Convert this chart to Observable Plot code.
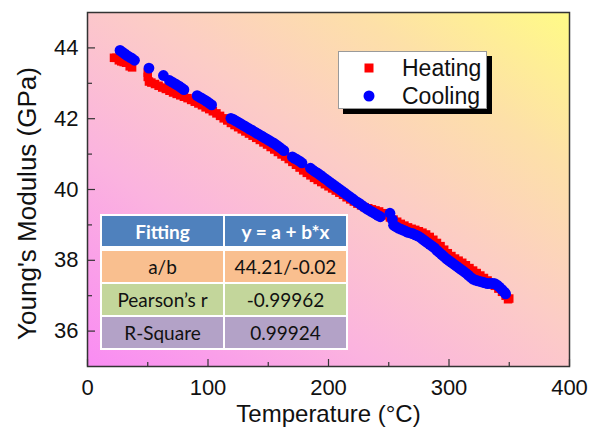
<!DOCTYPE html>
<html>
<head>
<meta charset="utf-8">
<script src="https://cdn.jsdelivr.net/npm/d3@7"></script>
<script src="https://cdn.jsdelivr.net/npm/@observablehq/plot@0.6"></script>
<style>
  html, body { margin: 0; padding: 0; background: #fff; }
  #wrap { position: relative; width: 592px; height: 433px; font-family: "Liberation Sans", Arial, sans-serif; }
  #legend { position: absolute; left: 338px; top: 51px; width: 149px; height: 58px; background: #fff;
            border: 1px solid #9a9a9a; box-shadow: 5px 5px 0 #000; box-sizing: border-box; }
  .lrow { position: absolute; left: 0; height: 28px; width: 100%; font-size: 23px; color: #111; }
  .lrow svg { position: absolute; left: 24px; top: 8px; }
  .lrow span { position: absolute; left: 63px; top: 1px; line-height: 26px; }
  #fit { position: absolute; left: 100px; top: 214px; width: 248px; border-collapse: separate; border-spacing: 2px;
         background: #fff; font-family: Lato, "Open Sans", sans-serif; font-size: 19px; color: #111; table-layout: fixed; }
  #fit td { text-align: center; padding: 0; height: 31px; }
  #fit td:first-child { width: 121px; }
  #fit tr.h td { background: #4f81bd; color: #fff; font-weight: bold; height: 30px; border-bottom: 3px solid #fff; }
  #fit tr.o td { background: #f9bf8f; }
  #fit tr.g td { background: #c3d69b; }
  #fit tr.p td { background: #b3a2c7; }
</style>
</head>
<body>
<div id="wrap"></div>
<script>
// ---- data ----
const heatT = [22,24,26,28,30,32,35,37,50,50,51,53,56,59,62,65,68,71,74,77,80,83,86,89,92,95,98,101,104,107,110,113,116,119,122,125,128,131,134,137,140,143,146,149,152,155,158,161,164,167,170,173,176,179,182,185,188,191,194,197,200,203,206,209,212,215,218,221,224,227,230,233,236,239,242,245,248,251,254,257,260,263,266,269,272,275,278,281,284,287,290,293,296,299,302,305,308,311,314,317,320,323,326,329,332,335,338,341,344,347,349,350];
const heatE = [43.72,43.72,43.65,43.62,43.60,43.58,43.48,43.45,43.30,43.18,43.05,43.02,42.98,42.93,42.88,42.84,42.79,42.74,42.70,42.66,42.62,42.58,42.53,42.48,42.43,42.38,42.32,42.27,42.21,42.15,42.08,42.01,41.95,41.88,41.82,41.76,41.70,41.64,41.58,41.52,41.46,41.40,41.33,41.27,41.20,41.13,41.06,40.99,40.93,40.86,40.78,40.70,40.62,40.54,40.47,40.40,40.33,40.27,40.21,40.15,40.09,40.03,39.97,39.91,39.85,39.78,39.72,39.66,39.60,39.55,39.50,39.47,39.44,39.41,39.38,39.33,39.27,39.21,39.15,39.09,39.03,38.98,38.93,38.89,38.86,38.82,38.78,38.73,38.66,38.58,38.49,38.40,38.30,38.20,38.12,38.05,37.99,37.93,37.86,37.78,37.71,37.64,37.57,37.50,37.43,37.36,37.28,37.20,37.11,37.00,36.90,36.92];
const coolT = [27,29,31,33,35,37,39,51,63,68,70,72,74,76,78,80,91,93,95,97,99,101,103,119,121,123,125,127,129,131,133,135,137,139,141,143,145,147,149,151,153,155,157,159,161,163,170,172,174,176,178,185,187,189,191,193,195,197,199,201,203,205,207,209,211,213,215,217,219,221,223,225,227,229,231,233,235,237,239,241,243,251,253,254,256,258,260,262,264,266,268,270,272,274,276,278,280,282,284,286,288,290,292,294,296,298,300,302,304,306,308,310,312,314,316,318,320,322,324,326,328,330,332,334,336,338,340,342,344,346,347];
const coolE = [43.93,43.88,43.83,43.78,43.74,43.70,43.65,43.43,43.22,43.08,43.04,43.00,42.96,42.92,42.87,42.82,42.65,42.61,42.57,42.53,42.49,42.44,42.39,42.01,41.98,41.94,41.90,41.86,41.82,41.78,41.74,41.70,41.66,41.62,41.58,41.54,41.50,41.46,41.42,41.38,41.34,41.30,41.25,41.20,41.15,41.10,40.92,40.88,40.84,40.80,40.75,40.60,40.55,40.50,40.46,40.41,40.36,40.31,40.26,40.21,40.16,40.11,40.06,40.01,39.96,39.91,39.86,39.81,39.76,39.71,39.66,39.62,39.57,39.52,39.47,39.43,39.39,39.35,39.31,39.27,39.23,39.33,39.15,38.99,38.95,38.91,38.88,38.85,38.82,38.79,38.77,38.75,38.72,38.69,38.65,38.60,38.55,38.50,38.45,38.40,38.35,38.28,38.22,38.16,38.10,38.04,37.99,37.94,37.89,37.84,37.79,37.74,37.69,37.64,37.58,37.52,37.47,37.44,37.42,37.40,37.38,37.36,37.34,37.35,37.35,37.34,37.30,37.24,37.17,37.10,37.05];
const xTicks = [0, 100, 200, 300, 400];
const xMinor = [50, 150, 250, 350];
const yTicks = [36, 38, 40, 42, 44];
const yMinor = [37, 39, 41, 43];
const seriesNames = ["Heating", "Cooling"];
const seriesColors = ["#ff0000", "#0000ff"];
const tableHeader = ["Fitting", "y = a + b*x"];
const tableRows = [["a/b", "44.21/-0.02"], ["Pearson’s r", "-0.99962"], ["R-Square", "0.99924"]];
const xLabel = "Temperature (°C)";
const yLabel = "Young's Modulus (GPa)";

const heating = heatT.map((t, i) => ({t, e: heatE[i]}));
const cooling = coolT.map((t, i) => ({t, e: coolE[i]}));

const chart = Plot.plot({
  width: 592, height: 433,
  marginLeft: 87, marginRight: 23, marginTop: 12, marginBottom: 67,
  x: {domain: [0, 400]},
  y: {domain: [35, 45]},
  style: {fontFamily: "'Liberation Sans', Arial, sans-serif", fontSize: "22px", color: "#111", background: "transparent"},
  marks: [
    Plot.frame({fill: "url(#bgGrad)"}),
    Plot.ruleX(xTicks, {x: d => d, y1: 35, y2: 35 + 7 / 35.4, stroke: "#333", strokeWidth: 1.2}),
    Plot.ruleX(xMinor, {x: d => d, y1: 35, y2: 35 + 4 / 35.4, stroke: "#333", strokeWidth: 1.2}),
    Plot.ruleY(yTicks, {y: d => d, x1: 0, x2: 8 / 1.205, stroke: "#333", strokeWidth: 1.2}),
    Plot.ruleY(yMinor, {y: d => d, x1: 0, x2: 5 / 1.205, stroke: "#333", strokeWidth: 1.2}),
    Plot.dot(heating, {x: "t", y: "e", symbol: "square", r: 4.8, fill: seriesColors[0], stroke: "none"}),
    Plot.dot(cooling, {x: "t", y: "e", symbol: "circle", r: 5.4, fill: seriesColors[1], stroke: "none"}),
    Plot.frame({stroke: "#333", strokeWidth: 1.5}),
    Plot.axisX(xTicks, {tickSize: 0, tickPadding: 13, label: null, tickFormat: d => String(d)}),
    Plot.axisY(yTicks, {tickSize: 0, tickPadding: 9, label: null, tickFormat: d => String(d)}),
    Plot.text([xLabel], {frameAnchor: "bottom", dy: 55, fontSize: 24, textAnchor: "middle"}),
    Plot.text([yLabel], {frameAnchor: "left", rotate: -90, dx: -60, dy: 14, fontSize: 26, textAnchor: "middle"})
  ]
});

// gradient background for the plot area
const svg = d3.select(chart);
const defs = svg.insert("defs", ":first-child");
const grad = defs.append("linearGradient").attr("id", "bgGrad")
  .attr("x1", 0).attr("y1", 1).attr("x2", 1).attr("y2", 0);
[[0, "#f98cf3"], [0.3, "#fbb3df"], [0.55, "#fcccc6"], [0.78, "#fde0a8"], [1, "#fffb86"]]
  .forEach(([o, c]) => grad.append("stop").attr("offset", o).attr("stop-color", c));

const wrap = document.getElementById("wrap");
wrap.appendChild(chart);

// legend
const legend = document.createElement("div");
legend.id = "legend";
seriesNames.forEach((name, i) => {
  const row = document.createElement("div");
  row.className = "lrow";
  row.style.top = (i === 0 ? 2 : 30) + "px";
  const sym = i === 0
    ? `<svg width="12" height="12"><rect x="1.5" y="1.5" width="9" height="9" fill="${seriesColors[0]}"/></svg>`
    : `<svg width="12" height="12"><circle cx="6" cy="6" r="5.5" fill="${seriesColors[1]}"/></svg>`;
  row.innerHTML = sym + `<span>${name}</span>`;
  legend.appendChild(row);
});
wrap.appendChild(legend);

// fitting table
const table = document.createElement("table");
table.id = "fit";
const hr = table.insertRow();
hr.className = "h";
tableHeader.forEach(h => { const c = hr.insertCell(); c.textContent = h; });
["o", "g", "p"].forEach((cls, i) => {
  const r = table.insertRow();
  r.className = cls;
  tableRows[i].forEach(v => { const c = r.insertCell(); c.textContent = v; });
});
wrap.appendChild(table);
</script>
</body>
</html>
